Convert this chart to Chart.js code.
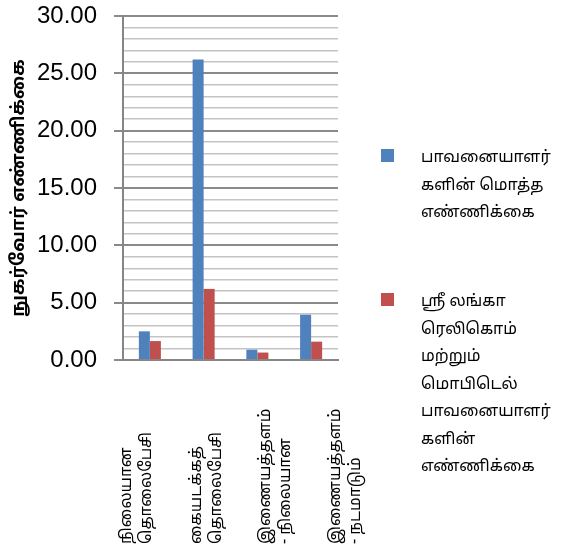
<!DOCTYPE html>
<html>
<head>
<meta charset="utf-8">
<script src="https://cdn.jsdelivr.net/npm/chart.js@4.4.1/dist/chart.umd.min.js"></script>
<style>
  html, body { margin: 0; padding: 0; background: #fff; }
  #wrap { width: 567px; height: 549px; }
</style>
</head>
<body>
<div id="wrap"><canvas id="myChart" width="567" height="549"></canvas></div>
<script>
var tamilFont = '"Noto Sans Tamil", "Lohit Tamil", "Noto Sans", sans-serif';

// categories (each label is split into its printed lines)
var categories = [
  ['நிலையான', 'தொலைபேசி'],
  ['கையடக்கத்', 'தொலைபேசி'],
  ['இணையத்தளம்', '- நிலையான'],
  ['இணையத்தளம்', '- நடமாடும்']
];
var totalUsers = [2.5, 26.2, 0.9, 3.95];
var sltMobitelUsers = [1.65, 6.2, 0.65, 1.6];
var seriesNames = [
  ['பாவனையாளர்', 'களின் மொத்த', 'எண்ணிக்கை'],
  ['ஸ்ரீ லங்கா', 'ரெலிகொம்', 'மற்றும்', 'மொபிடெல்', 'பாவனையாளர்', 'களின்', 'எண்ணிக்கை']
];
var yTitle = 'நுகர்வோர் எண்ணிக்கை';
var yMax = 30;

// x labels drawn from the bottom upward (Excel style)
var xLabelsPlugin = {
  id: 'xLabels',
  afterDraw: function (chart) {
    var c = chart.ctx;
    var xs = chart.scales.x;
    c.save();
    c.font = '16px ' + tamilFont;
    c.fillStyle = '#000';
    c.textAlign = 'left';
    c.textBaseline = 'middle';
    for (var i = 0; i < categories.length; i++) {
      var p = xs.getPixelForTick(i);
      var cx = xs.left + (p - xs.left) * 1.296 - 20;
      var lines = categories[i];
      for (var j = 0; j < lines.length; j++) {
        var lx = cx + (j - (lines.length - 1) / 2) * 20;
        c.save();
        c.translate(lx, 544);
        c.rotate(-Math.PI / 2);
        c.fillText(lines[j], 0, 0);
        c.restore();
      }
    }
    c.restore();
  }
};

// legend with wrapped text on the right
var legendPlugin = {
  id: 'sideLegend',
  afterDraw: function (chart) {
    var c = chart.ctx;
    var left = chart.chartArea.right + 43;
    var tops = [149, 293];
    c.save();
    c.font = '16px ' + tamilFont;
    c.textAlign = 'left';
    c.textBaseline = 'middle';
    chart.data.datasets.forEach(function (ds, i) {
      c.fillStyle = ds.backgroundColor;
      c.fillRect(left, tops[i], 13, 13);
      c.fillStyle = '#000';
      var lines = seriesNames[i];
      for (var j = 0; j < lines.length; j++) {
        c.fillText(lines[j], left + 40, tops[i] + 10 + j * 27.5);
      }
    });
    c.restore();
  }
};

var ctx = document.getElementById('myChart').getContext('2d');
var myChart = new Chart(ctx, {
  type: 'bar',
  data: {
    labels: categories,
    datasets: [{
      label: seriesNames[0].join(''),
      data: totalUsers,
      backgroundColor: '#4f81bd',
      categoryPercentage: 0.41,
      barPercentage: 1
    }, {
      label: seriesNames[1].join(' '),
      data: sltMobitelUsers,
      backgroundColor: '#c0504d',
      categoryPercentage: 0.41,
      barPercentage: 1
    }]
  },
  options: {
    responsive: false,
    animation: false,
    layout: { padding: { left: 0, top: 16, right: 229, bottom: 0 } },
    plugins: {
      legend: { display: false },
      tooltip: { enabled: false }
    },
    scales: {
      x: {
        grid: { display: false },
        border: { color: '#868686', width: 2 },
        ticks: { display: false },
        afterFit: function (scale) { scale.height = 189; }
      },
      y: {
        min: 0,
        max: yMax,
        border: { color: '#868686', width: 2 },
        grid: {
          color: function (c) { return c.tick.value % 5 === 0 ? '#8a8a8a' : '#c4c4c4'; },
          lineWidth: function (c) { return c.tick.value % 5 === 0 ? 2 : 1.5; },
          tickColor: function (c) { return c.tick.value % 5 === 0 ? '#8a8a8a' : 'rgba(0,0,0,0)'; },
          tickLength: 9
        },
        ticks: {
          stepSize: 1,
          autoSkip: false,
          padding: 17,
          color: '#000',
          font: { family: '"Liberation Sans", Arial, sans-serif', size: 24 },
          callback: function (v) { return v % 5 === 0 ? v.toFixed(2) : ''; }
        },
        title: {
          display: true,
          text: yTitle,
          color: '#000',
          font: { family: tamilFont, size: 18, weight: 'bold' },
          padding: { top: 10, bottom: 0 }
        },
        afterFit: function (scale) {
          scale.width = 123;
          scale.paddingTop = 0;
          scale.paddingBottom = 0;
        }
      }
    }
  },
  plugins: [xLabelsPlugin, legendPlugin]
});
</script>
</body>
</html>
